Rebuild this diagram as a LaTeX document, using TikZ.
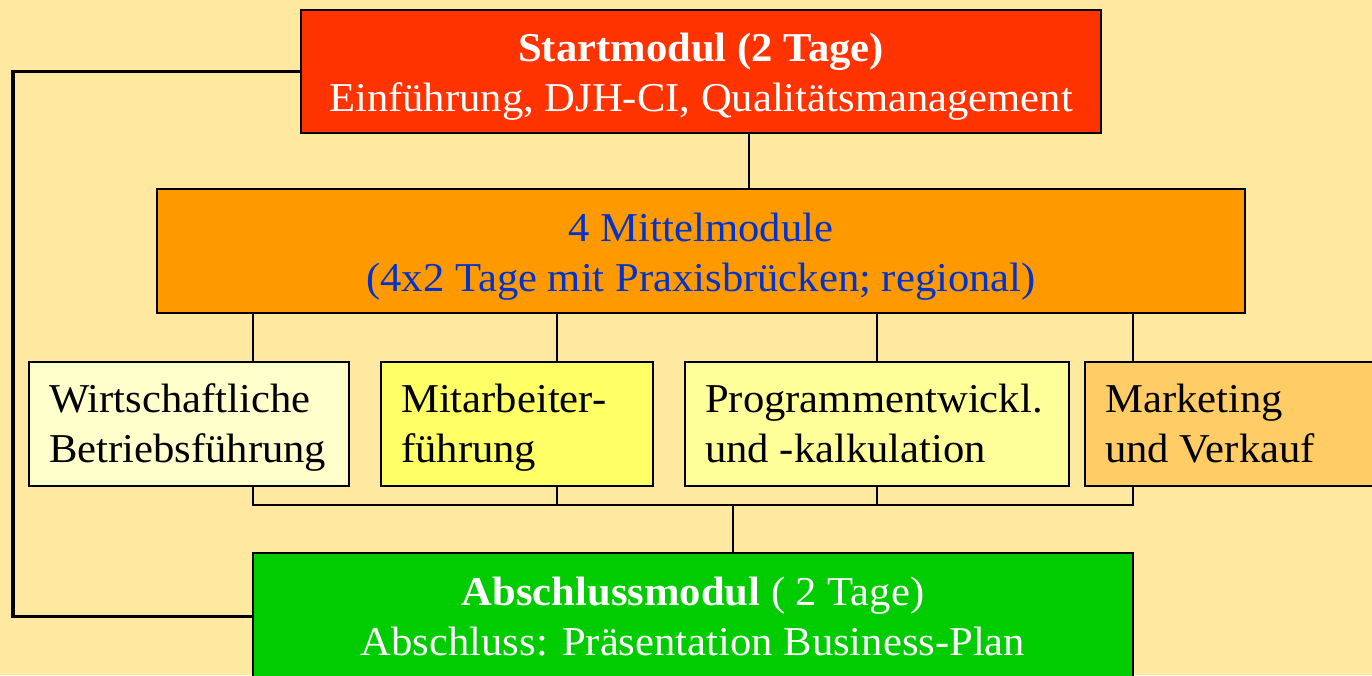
\documentclass[tikz,border=0pt]{standalone}
\usepackage{fontspec}
\setmainfont{Liberation Serif}[FakeStretch=1.04]
\definecolor{bg}{HTML}{FFE9A1}
\definecolor{startred}{HTML}{FF3300}
\definecolor{midorange}{HTML}{FF9900}
\definecolor{midblue}{HTML}{0033CC}
\definecolor{wfill}{HTML}{FFFFCC}
\definecolor{mfill}{HTML}{FFFF66}
\definecolor{pfill}{HTML}{FFFF99}
\definecolor{vfill}{HTML}{FFCC66}
\definecolor{endgreen}{HTML}{00CC00}
\begin{document}
\begin{tikzpicture}[x=1pt,y=-1pt,
  box/.style={draw=black, line width=2.6pt, rectangle, anchor=north west, inner sep=0pt, outer sep=0pt},
  conn/.style={draw=black, line width=2pt},
  loopline/.style={draw=black, line width=3.4pt},
  txt/.style={inner sep=0pt, font=\fontsize{41}{50}\selectfont}]
\fill[bg] (0,0) rectangle (1372,675);
\useasboundingbox (0,0) rectangle (1372,675);
% boxes
\node[box, fill=startred, minimum width=800, minimum height=123] (start) at (301,10) {};
\node[box, fill=midorange, minimum width=1088, minimum height=124] (mittel) at (157,189) {};
\node[box, fill=wfill, minimum width=320, minimum height=124] (w1) at (29,362) {};
\node[box, fill=mfill, minimum width=272, minimum height=124] (w2) at (381,362) {};
\node[box, fill=pfill, minimum width=384, minimum height=124] (w3) at (685,362) {};
\node[box, fill=vfill, minimum width=300, minimum height=124] (w4) at (1085,362) {};
\node[box, fill=endgreen, minimum width=880, minimum height=127] (ende) at (253,553) {};
% texts
\node[txt, anchor=base, text=white] (s1) at (701,61) {\bfseries Startmodul (2 Tage)};
\node[txt, anchor=base, text=white] (s2) at (701,111) {Einführung, DJH-CI, Qualitätsmanagement};
\node[txt, anchor=base, text=midblue] (m1) at (701,241) {4 Mittelmodule};
\node[txt, anchor=base, text=midblue] (m2) at (701,291) {(4x2 Tage mit Praxisbrücken; regional)};
\node[txt, anchor=base west] (a1) at (49,412) {Wirtschaftliche};
\node[txt, anchor=base west] (a2) at (49,462) {Betriebsführung};
\node[txt, anchor=base west] (b1) at (401,412) {Mitarbeiter-};
\node[txt, anchor=base west] (b2) at (401,462) {führung};
\node[txt, anchor=base west] (c1) at (705,412) {Programmentwickl.};
\node[txt, anchor=base west] (c2) at (705,462) {und -kalkulation};
\node[txt, anchor=base west] (d1) at (1105,412) {Marketing};
\node[txt, anchor=base west] (d2) at (1105,462) {und Verkauf};
\node[txt, anchor=base, text=white] (e1) at (693,605) {\textbf{Abschlussmodul} ( 2 Tage)};
\node[txt, anchor=base, text=white] (e2) at (693,655) {Abschluss: Präsentation Business-Plan};
% connector x positions
\coordinate (xa) at (253,0);
\coordinate (xb) at (557,0);
\coordinate (xc) at (877,0);
\coordinate (xd) at (1133,0);
\coordinate (xs) at (749,0);
\coordinate (xe) at (733,0);
\coordinate (xl) at (13,0);
\coordinate (bus) at (0,505);
% start -> mittel
\draw[conn] (xs |- start.south) -- (xs |- mittel.north);
% mittel -> modules
\draw[conn] (xa |- mittel.south) -- (xa |- w1.north);
\draw[conn] (xb |- mittel.south) -- (xb |- w2.north);
\draw[conn] (xc |- mittel.south) -- (xc |- w3.north);
\draw[conn] (xd |- mittel.south) -- (xd |- w4.north);
% modules -> bus -> ende
\draw[conn] (xa |- w1.south) -- (xa |- bus) -- (xd |- bus) -- (xd |- w4.south);
\draw[conn] (xb |- w2.south) -- (xb |- bus);
\draw[conn] (xc |- w3.south) -- (xc |- bus);
\draw[conn] (xe |- bus) -- (xe |- ende.north);
% loop start -> ende
\draw[loopline] (start.west) -- (xl |- start.west) -- (xl |- ende.west) -- (ende.west);
\end{tikzpicture}
\end{document}
